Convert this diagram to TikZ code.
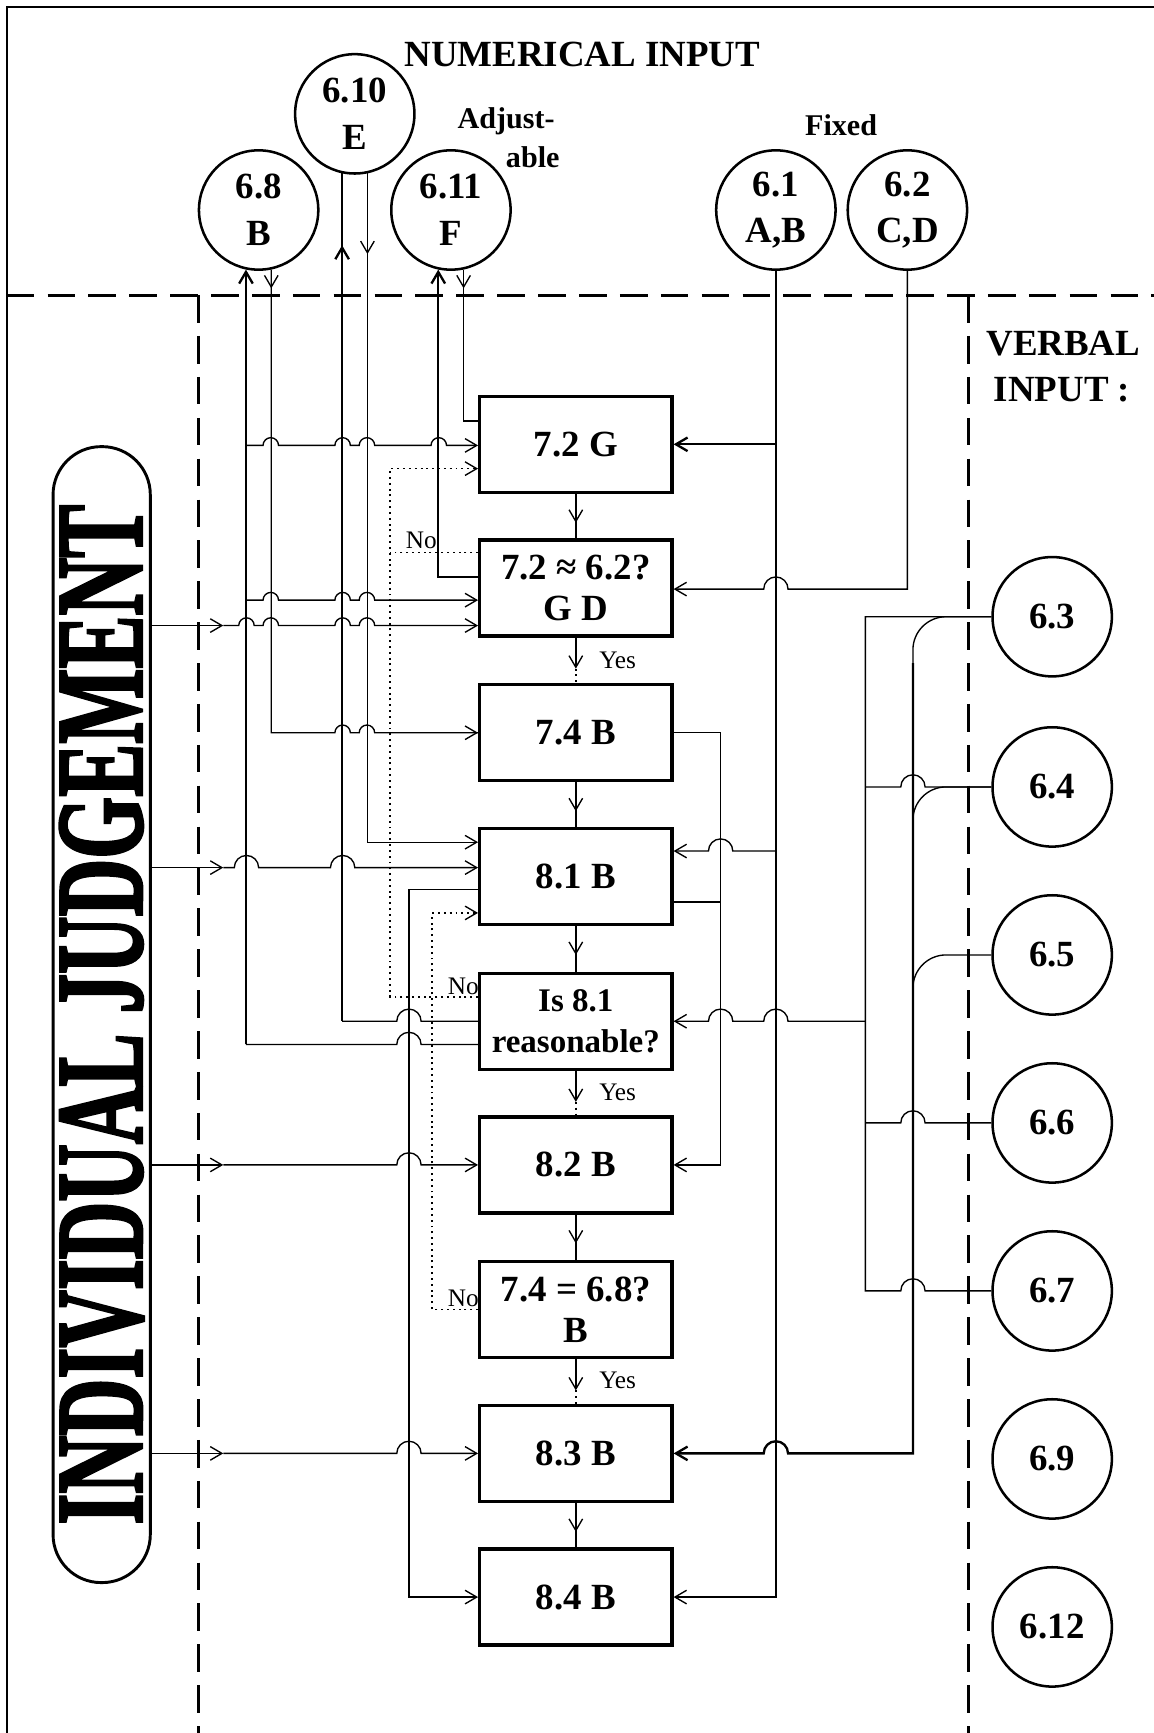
\documentclass[tikz,border=0pt]{standalone}
\usepackage{fontspec}
\setmainfont{Liberation Serif}
\newfontfamily\judgefont{Liberation Serif}[BoldFeatures={FakeBold=2.5}]
\usepackage{graphicx}
\usetikzlibrary{arrows.meta}

\newcommand{\hopr}[3]{-- (#1-#3,#2) arc[start angle=180,end angle=0,radius=#3*0.02cm]}
\newcommand{\hopl}[3]{-- (#1+#3,#2) arc[start angle=0,end angle=180,radius=#3*0.02cm]}

\tikzset{
    blk/.style={draw, line width=1.7pt, minimum width=3.48cm, minimum height=1.74cm, inner sep=0pt, align=center, font=\fontsize{19}{21.5}\selectfont\bfseries},
    src/.style={draw, circle, line width=1.3pt, minimum size=2.16cm, inner sep=0pt, align=center, font=\fontsize{19}{24}\selectfont\bfseries},
    judge/.style={draw, line width=1.5pt, rounded corners=0.87cm, minimum width=20.56cm, minimum height=1.76cm, inner sep=0pt, rotate=90},
    wire/.style={line width=0.7pt},
    fbwire/.style={line width=1.2pt},
    noline/.style={line width=0.7pt, dash pattern=on 1pt off 2pt},
    region/.style={line width=1.5pt, dash pattern=on 0.5cm off 0.24cm},
    lbl/.style={font=\fontsize{13}{15}\selectfont},
    hdr/.style={font=\fontsize{19}{22}\selectfont\bfseries},
    subhdr/.style={font=\fontsize{15.5}{18}\selectfont\bfseries}
}

\begin{document}
\begin{tikzpicture}[x=0.02cm, y=-0.02cm, >={Straight Barb[length=6pt,width=7pt]}]
    \useasboundingbox (0,0) rectangle (1044,1568);
    \draw[line width=1.1pt] (1044,6) -- (6,6) -- (6,1568);
    \draw[region] (6,267) -- (1044,267);
    \draw[region] (180,267) -- (180,1568);
    \draw[region] (876,267) -- (876,1568);

    \node[hdr, anchor=base] (numin) at (527,60) {NUMERICAL INPUT};
    \node[subhdr, anchor=base] (adj1) at (458,116) {Adjust-};
    \node[subhdr, anchor=base] (adj2) at (482,152) {able};
    \node[subhdr, anchor=base] (fixd) at (761,123) {Fixed};
    \node[hdr, anchor=base] (verb1) at (962,322) {VERBAL};
    \node[hdr, anchor=base] (verb2) at (961,363) {INPUT :};

    \node[src] (c68) at (234,190) {6.8\\B};
    \node[src] (c610) at (321,103) {6.10\\E};
    \node[src] (c611) at (408,190) {6.11\\F};
    \node[src] (c61) at (702,190) {6.1\\A,B};
    \node[src] (c62) at (821,190) {6.2\\C,D};

    \node[src] (c63) at (952,558) {6.3};
    \node[src] (c64) at (952,712) {6.4};
    \node[src] (c65) at (952,864) {6.5};
    \node[src] (c66) at (952,1016) {6.6};
    \node[src] (c67) at (952,1168) {6.7};
    \node[src] (c69) at (952,1320) {6.9};
    \node[src] (c612) at (952,1472) {6.12};

    \node[judge] (jdg) at (92,918) {\resizebox{18.46cm}{1.48cm}{\judgefont\bfseries INDIVIDUAL JUDGEMENT}};

    \node[blk] (b72) at (521,402) {7.2 G};
    \node[blk] (b62) at (521,532) {7.2 ≈ 6.2?\\G D};
    \node[blk] (b74) at (521,663) {7.4 B};
    \node[blk] (b81) at (521,793) {8.1 B};
    \node[blk, font=\fontsize{17}{21.5}\selectfont\bfseries] (b8q) at (521,924) {Is 8.1\\reasonable?};
    \node[blk] (b82) at (521,1054) {8.2 B};
    \node[blk] (b76) at (521,1185) {7.4 = 6.8?\\B};
    \node[blk] (b83) at (521,1315) {8.3 B};
    \node[blk] (b84) at (521,1445) {8.4 B};

    \node[lbl, anchor=base west] (no1) at (361,496) {No};
    \node[lbl, anchor=base west] (no2) at (399,900) {No};
    \node[lbl, anchor=base west] (no3) at (399,1182) {No};
    \node[lbl, anchor=base west] (yes1) at (536,605) {Yes};
    \node[lbl, anchor=base west] (yes2) at (536,996) {Yes};
    \node[lbl, anchor=base west] (yes3) at (536,1256) {Yes};

    \foreach \a/\b in {b72/b62, b74/b81, b81/b8q, b82/b76, b83/b84} {
        \draw[wire] (\a.south) -- (\b.north);
        \draw[wire,->] (\a.south) -- ++(0,26);
    }
    \foreach \a/\b in {b62/b74, b8q/b82, b76/b83} {
        \draw[wire,->] (\a.south) -- ++(0,28);
        \draw[noline] (\a.south) ++(0,28) -- (\b.north);
    }

    \draw[fbwire,->] (c68.-102 |- 0,945) -- (c68.-102);
    \draw[wire] (c68.-78) -- (c68.-78 |- b74.west) \hopr{310}{663}{7} \hopr{332}{663}{7} -- (b74.west);
    \draw[wire,->] (b74.west) ++(-10,0) -- (b74.west);
    \draw[wire,->] (c68.-78) -- ++(0,17);
    \draw[fbwire] (c610.-102 |- b8q.west) -- (c610.-102);
    \draw[fbwire,->] (c610.-102) ++(0,90) -- ++(0,-25);
    \draw[wire,->] (c610.-78) -- (c610.-78 |- 0,762) -- (b81.west |- 0,762);
    \draw[wire,->] (c610.-78) -- ++(0,73);
    \draw[fbwire,->] (b62.west |- 0,522) -- (c611.-102 |- 0,522) -- (c611.-102);
    \draw[wire] (c611.-78) -- (c611.-78 |- 0,381) -- (b72.west |- 0,381);
    \draw[wire,->] (c611.-78) -- ++(0,17);

    \draw[wire,->] (c68.-102 |- 0,403) \hopr{245}{403}{7} \hopr{310}{403}{7} \hopr{332}{403}{7} \hopr{397}{403}{7} -- (b72.west |- 0,403);
    \draw[wire,->] (c68.-102 |- 0,543) \hopr{245}{543}{7} \hopr{310}{543}{7} \hopr{332}{543}{7} -- (b62.west |- 0,543);
    \draw[wire] (b8q.west) \hopl{370}{924}{11} -- (c610.-102 |- b8q.west);
    \draw[wire] (b8q.west |- 0,945) \hopl{370}{945}{11} -- (c68.-102 |- 0,945);

    \draw[wire,->] (jdg.south |- 0,566) -- (202,566);
    \draw[wire,->] (202,566) \hopr{223}{566}{7} \hopr{245}{566}{7} \hopr{310}{566}{7} \hopr{332}{566}{7} -- (b62.west |- 0,566);
    \draw[wire,->] (jdg.south |- 0,785) -- (202,785);
    \draw[wire,->] (202,785) \hopr{223}{785}{11} \hopr{310}{785}{11} -- (b81.west |- 0,785);
    \draw[wire,->] (jdg.south |- b82.west) -- (202,1054);
    \draw[wire,->] (202,1054) \hopr{370}{1054}{11} -- (b82.west);
    \draw[wire,->] (jdg.south |- b83.west) -- (202,1315);
    \draw[wire,->] (202,1315) \hopr{370}{1315}{11} -- (b83.west);
    \draw[wire,->] (b81.west |- 0,805) -- (370,805) -- (370,1445) -- (b84.west);

    \draw[noline,->] (b8q.west |- 0,902) -- (353,902) -- (353,424) -- (b72.west |- 0,424);
    \draw[noline] (b62.west |- 0,500) -- (353,500);
    \draw[noline,->] (b76.west) -- (391,1185) -- (391,826) -- (b81.west |- 0,826);

    \draw[wire,->] (c61.south) -- (c61.south |- b84.east) -- (b84.east);
    \draw[fbwire,->] (c61.south |- b72.east) -- (b72.east);
    \draw[wire,->] (c61.south |- 0,770) \hopl{652}{770}{11} -- (b81.east |- 0,770);
    \draw[wire,->] (c62.south) -- (c62.south |- 0,533) \hopl{702}{533}{11} -- (b62.east |- 0,533);
    \draw[wire,->] (b74.east) -- (b74.east -| 652,0) -- (652,1054) -- (b82.east);
    \draw[fbwire] (b81.east |- 0,816) -- (652,816);

    \draw[wire] (c63.west) -- (c63.west -| 783,0) -- (c67.west -| 783,0) \hopr{826}{1168}{11} -- (c67.west);
    \draw[wire] (c64.west -| 783,0) \hopr{826}{712}{11} -- (c64.west);
    \draw[wire] (c66.west -| 783,0) \hopr{826}{1016}{11} -- (c66.west);
    \draw[wire,->] (783,924) \hopl{702}{924}{11} \hopl{652}{924}{11} -- (b8q.east);
    \draw[wire, rounded corners=0.6cm] (c63.west) -- (c63.west -| 826,0) -- (826,700);
    \draw[wire, rounded corners=0.6cm] (c64.west) -- (c64.west -| 826,0) -- (826,800);
    \draw[wire, rounded corners=0.6cm] (c65.west) -- (c65.west -| 826,0) -- (826,950);
    \draw[fbwire,->] (826,600) -- (826,1315) \hopl{702}{1315}{11} -- (b83.east);
\end{tikzpicture}
\end{document}
